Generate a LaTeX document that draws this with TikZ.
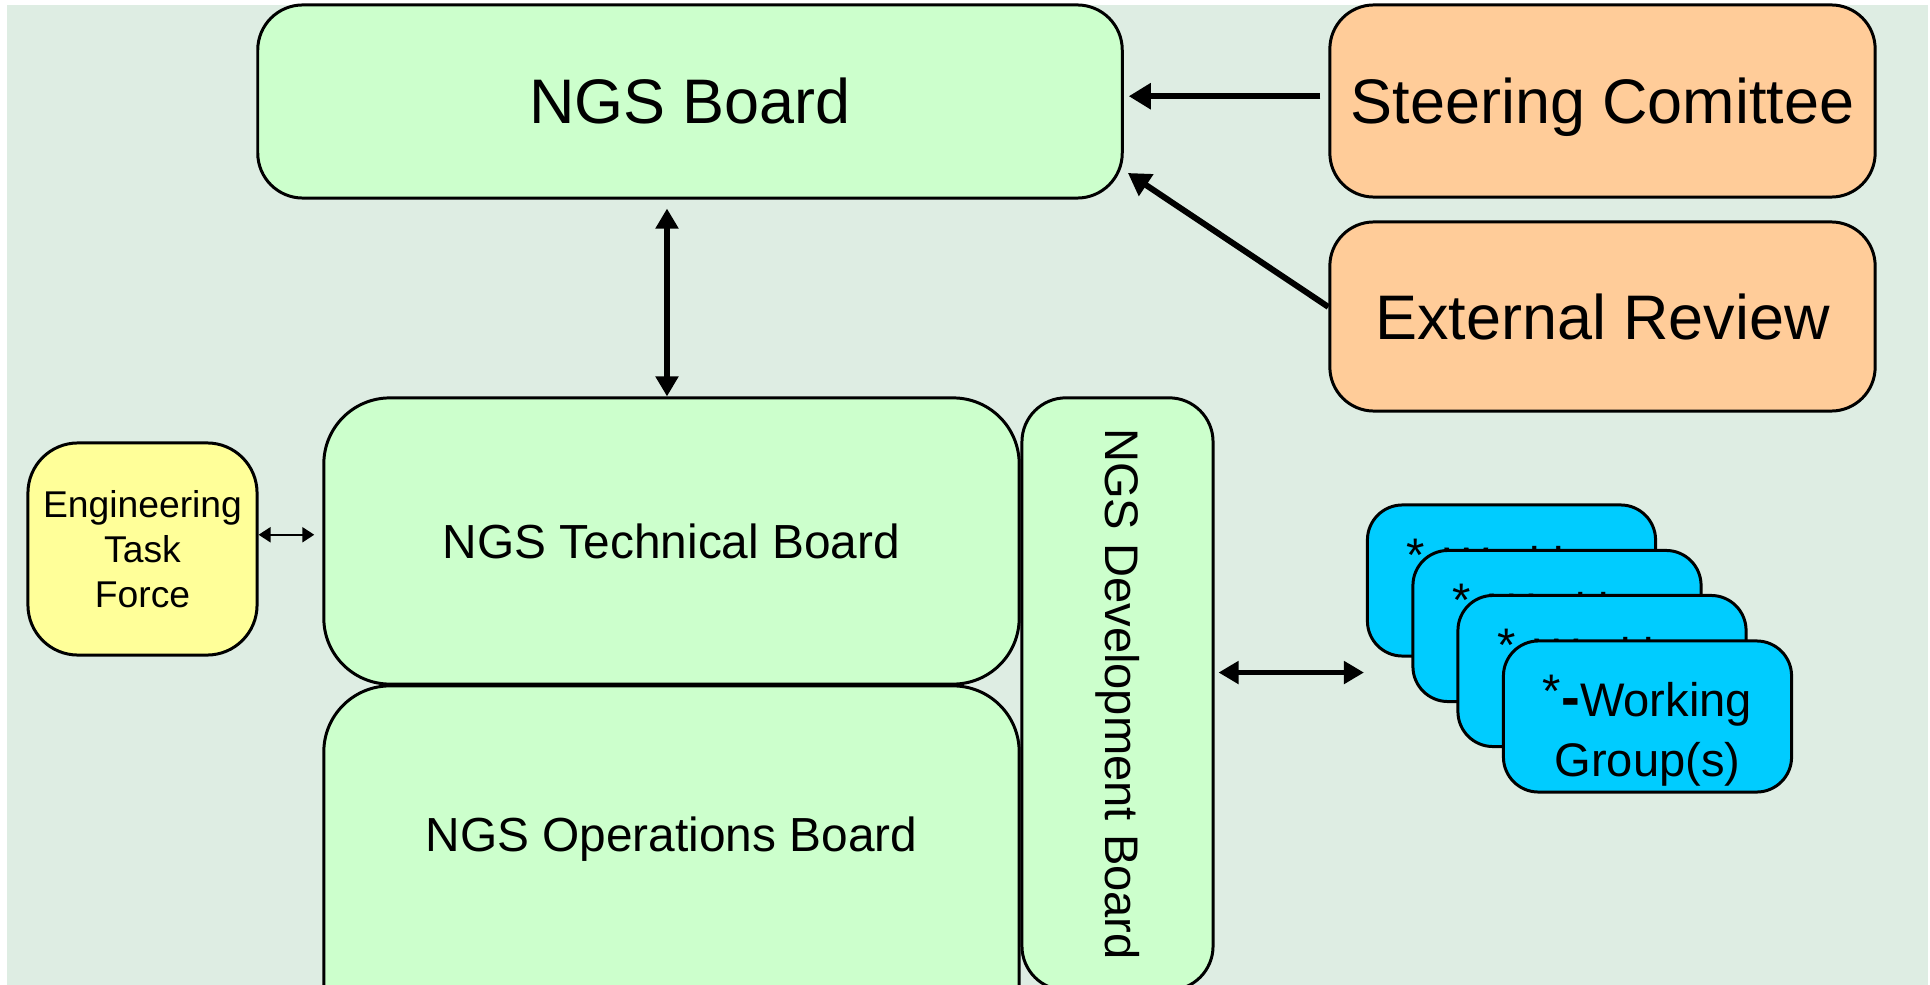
\documentclass[tikz,border=0pt]{standalone}
\usepackage{fontspec}
\setmainfont{Liberation Sans}
\usepackage{graphicx}
\usetikzlibrary{arrows.meta}

\definecolor{slidebg}{RGB}{222,237,227}
\definecolor{boardgreen}{RGB}{204,255,204}
\definecolor{revieworange}{RGB}{255,204,153}
\definecolor{etfyellow}{RGB}{255,255,153}
\definecolor{wgcyan}{RGB}{0,204,255}

\tikzset{
  box/.style = {draw=black, line width=0.85pt, inner sep=0pt, align=center},
  board/.style = {box, fill=boardgreen},
  review/.style = {box, fill=revieworange, minimum width=5.45cm, rounded corners=0.44cm,
                   font=\fontsize{17.9}{21}\selectfont, text height=12.9pt, text depth=0pt},
  wgbox/.style = {box, fill=wgcyan, minimum width=2.88cm, minimum height=1.51cm, rounded corners=0.35cm,
                  font=\fontsize{13.4}{17.1}\selectfont},
  bigarrow/.style = {line width=1.7pt, -{Triangle[length=0.22cm, width=0.25cm]}},
  dblarrow/.style = {line width=1.6pt, {Triangle[length=0.2cm, width=0.22cm]}-{Triangle[length=0.2cm, width=0.22cm]}},
  thinarrow/.style = {line width=0.6pt, {Triangle[length=0.12cm, width=0.15cm]}-{Triangle[length=0.12cm, width=0.15cm]}}
}
\newcommand{\wgtext}{\rule{0pt}{0.7cm}\raisebox{0.2em}{*}{\bfseries\fontsize{16}{17}\selectfont -}Working\\Group(s)}

\begin{document}
\begin{tikzpicture}[x=0.01cm, y=-0.01cm]
\clip (0,0) rectangle (1930,985);
\fill[slidebg] (7,5) rectangle (1928,985);

% boards
\node[board, minimum width=8.64cm, minimum height=1.93cm, rounded corners=0.45cm, font=\fontsize{17.9}{21}\selectfont] (ngsboard) at (690,101.5) {NGS Board};
\node[review, minimum height=1.92cm] (steering) at (1602.5,101) {Steering Comittee};
\node[review, minimum height=1.89cm] (extreview) at (1602.5,316.5) {External Review};

\node[board, minimum width=6.95cm, minimum height=2.86cm, rounded corners=0.66cm, font=\fontsize{13.6}{16}\selectfont] (techboard) at (671.5,541) {NGS Technical Board};
\node[board, minimum width=6.95cm, minimum height=3.74cm, rounded corners=0.66cm, font=\fontsize{13.6}{16}\selectfont, text depth=0.78cm] (opsboard) at (671.5,873) {NGS Operations Board};
\node[board, minimum width=1.91cm, minimum height=5.92cm, rounded corners=0.44cm, font=\fontsize{13.4}{16}\selectfont] (devboard) at (1117.5,694) {\rotatebox{-90}{NGS Development Board}};

\node[box, fill=etfyellow, minimum width=2.29cm, minimum height=2.12cm, rounded corners=0.5cm, font=\fontsize{10.6}{12.8}\selectfont] (etf) at (142.5,549) {Engineering\\Task\\Force};

% working groups, back to front
\node[wgbox] (wg1) at (1511.5,580.5) {\wgtext};
\node[wgbox] (wg2) at (1557,626) {\wgtext};
\node[wgbox] (wg3) at (1602,671) {\wgtext};
\node[wgbox] (wg4) at (1647.5,716.5) {\wgtext};
\coordinate (wgtip) at ([shift={(-2,15)}]wg1.south west);

% connectors
\draw[bigarrow, shorten <=0.08cm, shorten >=0.05cm] (steering.179) -- (steering.179 -| ngsboard.east);
\draw[bigarrow, shorten >=0.05cm] (extreview.178) -- (ngsboard.-9.4);
\coordinate (vline) at (667,300);
\draw[dblarrow, shorten <=0.09cm] (ngsboard.south -| vline) -- (techboard.north -| vline);
\draw[thinarrow, shorten >=0.08cm] (etf.7) -- (etf.7 -| techboard.west);
\draw[dblarrow, shorten <=0.04cm] (devboard.east |- wgtip) -- (wgtip);
\end{tikzpicture}
\end{document}
